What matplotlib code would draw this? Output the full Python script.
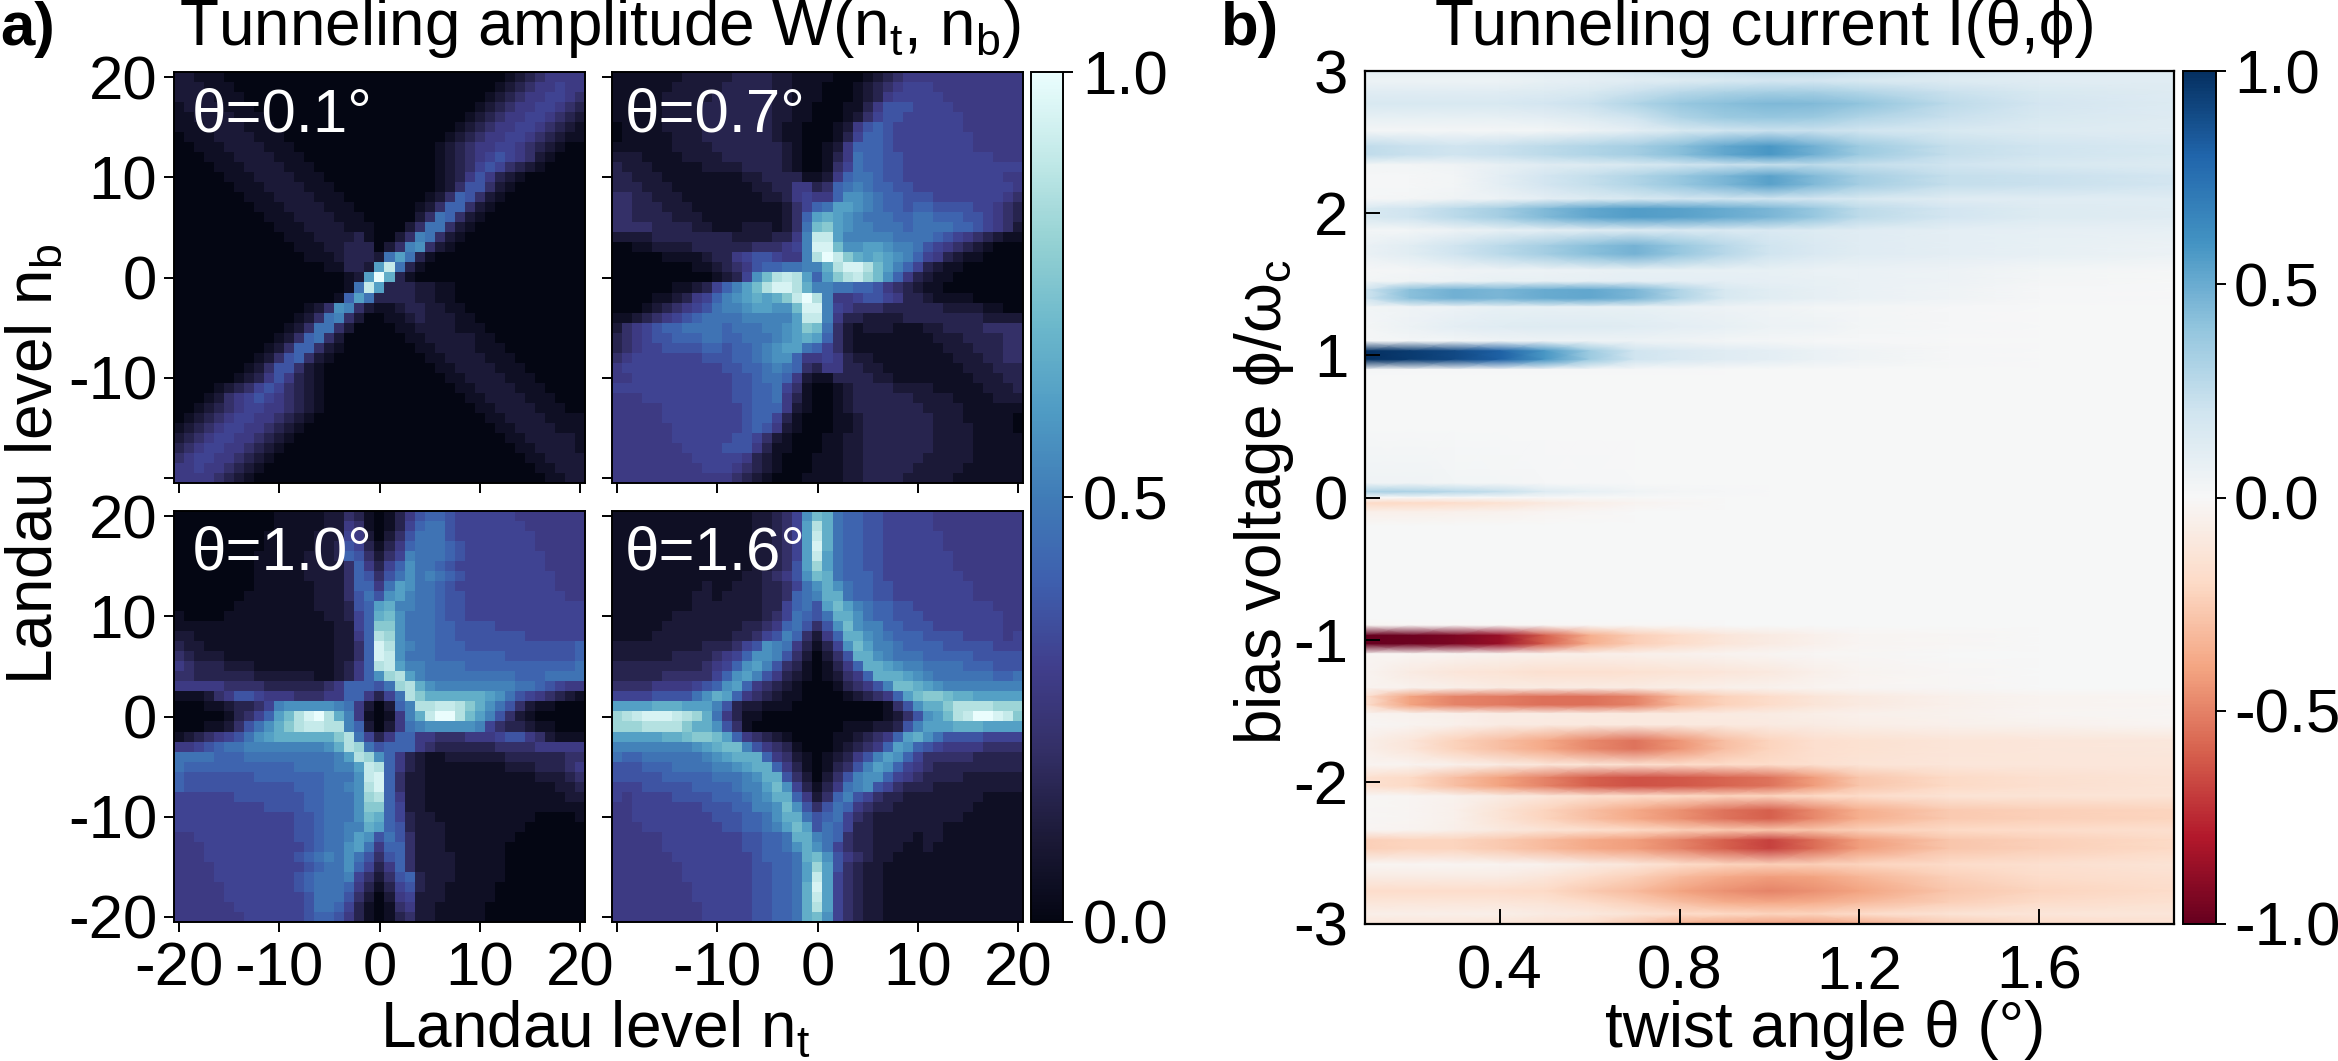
import numpy as np
import matplotlib
matplotlib.use('Agg')
import matplotlib.pyplot as plt
from matplotlib.colors import LinearSegmentedColormap

plt.rcParams['font.family'] = ['Liberation Sans', 'DejaVu Sans']
plt.rcParams['mathtext.fontset'] = 'custom'
plt.rcParams['mathtext.rm'] = 'Liberation Sans'
plt.rcParams['mathtext.default'] = 'regular'
plt.rcParams['axes.unicode_minus'] = False

W, H = 2338, 1061
FS = 44.5
FS_LABEL = 46

# Tunneling amplitude, one character per cell (scale in LEVEL_VALUES)
# rows run from n_b = 20 down to n_b = -20, columns from n_t = -20 to n_t = 20
LEVELS = '0123456789abcdefghijk'
LEVEL_VALUES = [0, .05, .10, .15, .21, .28, .32, .37, .42, .47, .52, .57, .62, .67, .72, .77, .82, .87, .91, .95, 1]

w_01 = [
    "2211100000 0000000000 0000000000 0001234555 5",
    "2221110000 0000000000 0000000000 0012345565 5",
    "2222111000 0000000000 0000000000 0123455665 4",
    "1222211100 0000000000 0000000000 1234556654 3",
    "1122221110 0000000000 0000000001 2345566543 2",
    "1112222111 0000000000 0000000012 3455665432 1",
    "0111222211 1000000000 0000000123 4556654321 1",
    "0011122221 1100000000 0000001234 5566543210 0",
    "0001112222 1110000000 0000001234 5676542100 0",
    "0000111222 2111000000 0000001234 6764321000 0",
    "0000011122 2211100000 0000001235 7532100000 0",
    "0000001112 2221110000 0000001247 7421000000 0",
    "0000000111 2222111000 0000012487 4210000000 0",
    "0000000011 1222211100 0000124884 2100000000 0",
    "0000000001 1122221110 0000249842 1000000000 0",
    "0000000000 1112222111 0002499421 0000000000 0",
    "0000000000 0111222231 0024a94210 0000000000 0",
    "0000000000 0011122333 024ab42100 0000000000 0",
    "0000000000 0001112333 29c9310000 0000000000 0",
    "0000000000 0000011332 ci93100000 0000000000 0",
    "0000000000 000000012c kd31000000 0000000000 0",
    "0000000000 000000019i c333221100 0000000000 0",
    "0000000000 00000018c9 3333221100 0000000000 0",
    "0000000000 000124ba42 1123322110 0000000000 0",
    "0000000000 001249a420 0112322211 0000000000 0",
    "0000000000 0124994200 0011222211 1000000000 0",
    "0000000000 1248942000 0001122222 1100000000 0",
    "0000000001 2488421000 0000112222 1110000000 0",
    "0000000012 4784210000 0000011222 2111000000 0",
    "0000000124 7742100000 0000001122 2211100000 0",
    "0000001235 7532100000 0000000112 2221110000 0",
    "0000123467 6432100000 0000000011 2222111000 0",
    "0001245676 5432100000 0000000001 1222211100 0",
    "0012345665 5432100000 0000000000 1122221110 0",
    "0123456655 4321000000 0000000000 0112222111 1",
    "1234566554 3210000000 0000000000 0011222211 1",
    "2345665543 2100000000 0000000000 0001122222 1",
    "3456655432 1000000000 0000000000 0000112222 1",
    "4566554321 0000000000 0000000000 0000011222 2",
    "5565543210 0000000000 0000000000 0000001122 2",
    "5555432100 0000000000 0000000000 0000000112 2",
]

w_07 = [
    "1111111222 2233332211 1100012345 5555555555 5",
    "1111112222 2333332211 1000123456 6655555555 5",
    "1111122222 3333332211 1000123566 6665555555 5",
    "1111122223 3333332211 0001135777 6666555555 5",
    "1111122223 3333332211 0001246776 6666655555 5",
    "0111122223 3333332110 0012578766 6666655555 5",
    "0111112223 3333332110 0013688766 6666665555 5",
    "1111112222 3333333210 0125888766 6666665555 5",
    "2221111222 2333333210 0135988776 6666666655 5",
    "3222111112 2223333210 0146988776 6666666666 6",
    "3322211111 1112233331 1258998776 6666666665 5",
    "3332221111 1111223355 3489a98877 6666666666 5",
    "4433222111 1111122356 558bba9887 7766666665 4",
    "4433322211 1111111246 89ccba9887 8877776654 3",
    "4433332221 1111111248 cdcba99988 9988877654 3",
    "4444333322 1112221249 efcbaa9998 9999887654 2",
    "2222333333 332222335a iicaaaaa99 9987654321 1",
    "0011222233 333344456a jjebbccbaa 9765432100 0",
    "0000011112 335677655a hkifdcdcba 8653211000 0",
    "0000000011 234578899a adhjjheca8 6321100000 0",
    "0000000000 1236behihc 8cfhigeb85 3211000000 0",
    "0 0000011236 8acehjjhda a998875432 1100000000",
    "0 0001123568 abcdcdfikh a556776533 2111100000",
    "0 0012345679 aabccbbejj a654443333 3322221100",
    "1 1234567899 99aaaaacii a533222233 3333332222",
    "2 4567889999 8999aabcfe 9421222111 2233334444",
    "3 4567788899 88999abcdc 8421111111 1222333344",
    "3 4566777788 7889abcc98 6421111111 1122233344",
    "4 5666666677 7889abb855 6532211111 1112223344",
    "5 6666666666 77889a9843 5533221111 1111222333",
    "5 5666666666 6778998521 1333322111 1111122233",
    "6 6666666666 6778896410 0123333222 2111112223",
    "5 5566666666 6778895310 0123333332 2221111222",
    "5 5555666666 6678885210 0123333333 2222111111",
    "5 5555666666 6678863100 0112333333 3222111110",
    "5 5555566666 6678752100 0112333333 3222211110",
    "5 5555566666 6776421000 1122333333 3222211111",
    "5 5555556666 7775311000 1122333333 3222211111",
    "5 5555555666 6653210001 1122333333 2222211111",
    "5 5555555566 6543210001 1122333332 2222111111",
    "5 5555555555 5432100011 1122333322 2221111111",
]

w_10 = [
    "0000000000 1111122431 0135788766 6666555555 5",
    "0000000000 1111122541 0136899766 6666655555 5",
    "0000000001 1111222652 0247999766 6666665555 5",
    "0000000001 1111223763 1358999876 6666665555 5",
    "0000000011 1112223874 246a999876 6666666555 5",
    "0000000011 1112222485 368b998766 6666666555 5",
    "0000000011 1112222487 479b9a9876 6666666655 5",
    "0000000011 1111222488 59cb998766 6666666655 5",
    "0000000111 1111222479 7bca998776 6666666665 5",
    "0000001111 1111222378 cdaa998776 6666666666 6",
    "1000011111 1111122368 deb9998776 6666666666 6",
    "1111111111 1111112268 ffb9998877 7766666666 6",
    "2211111111 1111112258 hgb9998877 7777766666 6",
    "3221111111 1111112248 jhba998887 7777777777 8",
    "4322211111 1111112248 jib9998888 8887777777 8",
    "5433322211 1111112358 hicaa99998 8888888888 9",
    "4433333322 2222112358 bghca99999 9999888999 9",
    "5555544443 3333345888 79ghdbaaaa aaaa998765 5",
    "1112457765 5544455885 369hfddddd dcb9765432 1",
    "0001123346 abbbbba952 028ahhiihf db97421100 0",
    "0000013468 cehjkhda51 015adikkhe ca74210000 0",
    "0 0011247 9bd fhiihha820 259abbbbba 6433211000",
    "1 2345679bcd dddddfh963 5885544455 5677542111",
    "5 567899aaaa aaaabdhg97 8885433333 3444455555",
    "9 9998889999 99999achgb 8532112222 2233333344",
    "9 8888888888 89999aacih 8532111111 1122233345",
    "8 7777777888 8888999bij 8422111111 1111122234",
    "8 7777777777 788899abhj 8422111111 1111111223",
    "6 6666677777 7788999bgh 8522111111 1111111122",
    "6 6666666677 7788999bff 8622111111 1111111111",
    "6 6666666666 6778999bed 8632211111 1111100001",
    "6 6666666666 677899aadc 8732221111 1111000000",
    "5 5666666666 677899acb7 9742221111 1110000000",
    "5 5566666666 667899bc95 8842221111 1100000000",
    "5 5566666666 6789a9b974 7842222111 1100000000",
    "5 5556666666 667899b863 5842222111 1100000000",
    "5 5556666666 678999a642 4783222111 1100000000",
    "5 5555666666 6789998531 3673221111 1000000000",
    "5 5555666666 6679997420 2562221111 1000000000",
    "5 5555566666 6679986310 1452211111 0000000000",
    "5 5555556666 6678875310 1342211111 0000000000",
]

w_16 = [
    "1111111111 111122346b ed98877666 6655555555 5",
    "1111111111 111122346c hd98877666 6655555555 5",
    "1111111111 111122346c id98877666 6665555555 5",
    "1111111111 111122346c jd98877666 6665555555 5",
    "1111111111 111122346c ic98877666 6666555555 5",
    "1111111111 111122347c gc98877666 6666555555 5",
    "1111111111 111223457b ed98887666 6666655555 5",
    "1111111112 1122233469 bdb9887766 6666665555 5",
    "1111111122 1222233489 add9887766 6666665555 5",
    "1111111122 2222233689 7ceca98877 6666666655 5",
    "1111112222 2222234698 79ddb98877 7666666665 5",
    "1111122222 2223345897 47bebaa887 7766666665 5",
    "1111222222 2233467a84 258ddba988 8777766665 6",
    "2222222223 33467ba953 136becaa98 8887777766 6",
    "2222223333 4568bba742 0247ddba99 9888887777 7",
    "3333333334 568bca7431 01358ddcba a999988877 7",
    "3333344444 68bca75321 012458dddc ba99999988 9",
    "4444555567 8bc8543210 0013457aee dcbaaaaaaa a",
    "666677779b dc85432110 000123458c effeddcccc c",
    "ccccdddccc a732211100 0000000147 bddfhhhhgg g",
    "ghijjjihgd 9531100000 0000000124 7bcehikkji f",
    "g gghhhhfddb 7410000000 001112237a cccdddcccc",
    "c ccccddeffe c854321000 01123458cd b977776666",
    "a aaaaaaabcd eea7543100 0123458cb8 7655554444",
    "9 88999999ab cddd854210 12357acb86 4444433333",
    "7 778889999a abcdd85310 1347acb865 4333333333",
    "7 7777888889 99abdd7420 247abb8654 3333222222",
    "6 6677777888 89aaceb631 359ab76433 3222222222",
    "6 5666677778 889abdd852 48a7643322 2222221111",
    "5 5666666677 788aabeb74 7985433222 2222211111",
    "5 5666666667 77889bdd97 8964322222 2222111111",
    "5 5566666666 77889acec7 9863322222 2211111111",
    "5 5555666666 6677889dda 9843322221 2211111111",
    "5 5555666666 6677889bdb 9643322211 2111111111",
    "5 5555566666 66678889de b754322111 1111111111",
    "5 5555556666 66677889cg c743221111 1111111111",
    "5 5555556666 66677889ci c643221111 1111111111",
    "5 5555555666 66677889dj c643221111 1111111111",
    "5 5555555666 66677889di c643221111 1111111111",
    "5 5555555566 66677889dh c643221111 1111111111",
    "5 5555555566 66677889de b643221111 1111111111",
]

panel_labels = ['θ=0.1°', 'θ=0.7°', 'θ=1.0°', 'θ=1.6°']

# Tunneling current in percent
theta = [0.1, 0.2, 0.3, 0.4, 0.5, 0.6, 0.7, 0.8, 0.9, 1.0, 1.1, 1.2, 1.4, 1.6, 1.9]
phi = [3.00, 2.93, 2.85, 2.77, 2.67, 2.58, 2.47, 2.41, 2.34, 2.26, 2.20, 2.10, 2.03, 1.97, 1.88,
       1.77, 1.71, 1.60, 1.52, 1.46, 1.40, 1.34, 1.20, 1.10, 1.03, 0.97, 0.90, 0.85, 0.50, 0.10,
       0.04, 0.00,
       -0.04, -0.10, -0.20, -0.50, -0.85, -0.90, -0.97, -1.03, -1.10, -1.23, -1.34, -1.40, -1.46,
       -1.52, -1.60, -1.71, -1.77, -1.88, -1.97, -2.03, -2.10, -2.20, -2.26, -2.34, -2.41, -2.47,
       -2.58, -2.67, -2.77, -2.85, -2.93, -3.00]
current = [
    [10, 10, 10, 10, 12, 14, 18, 22, 24, 26, 26, 24, 18, 14, 12],
    [6, 6, 6, 6, 8, 10, 12, 14, 16, 18, 18, 16, 14, 12, 12],
    [12, 12, 12, 12, 14, 16, 22, 28, 32, 34, 34, 30, 22, 16, 13],
    [16, 16, 16, 16, 18, 22, 30, 38, 42, 45, 44, 40, 26, 18, 14],
    [8, 8, 8, 8, 10, 14, 20, 30, 36, 38, 36, 30, 22, 16, 13],
    [2, 2, 2, 2, 3, 6, 10, 16, 20, 22, 22, 20, 16, 14, 12],
    [25, 22, 20, 22, 26, 30, 34, 42, 52, 58, 48, 36, 24, 20, 16],
    [25, 22, 20, 22, 26, 30, 34, 42, 52, 58, 48, 36, 24, 20, 16],
    [3, 3, 4, 8, 12, 14, 16, 20, 22, 24, 26, 24, 20, 16, 14],
    [1, 1, 3, 10, 18, 24, 30, 38, 46, 54, 44, 34, 24, 22, 18],
    [1, 1, 3, 10, 18, 24, 30, 38, 46, 54, 44, 34, 24, 22, 18],
    [1, 2, 4, 6, 10, 14, 16, 18, 20, 20, 18, 16, 12, 12, 12],
    [16, 20, 27, 34, 44, 52, 56, 54, 50, 46, 38, 26, 18, 14, 12],
    [16, 20, 27, 34, 44, 52, 56, 54, 50, 46, 38, 26, 18, 14, 12],
    [2, 3, 5, 8, 10, 12, 14, 15, 15, 15, 14, 12, 10, 9, 8],
    [7, 11, 20, 27, 34, 42, 47, 38, 28, 20, 15, 12, 10, 8, 6],
    [7, 11, 20, 27, 34, 42, 47, 38, 28, 20, 15, 12, 10, 8, 6],
    [1, 2, 4, 5, 6, 7, 8, 8, 8, 8, 7, 7, 5, 3, 1],
    [3, 4, 6, 8, 8, 9, 10, 10, 10, 9, 8, 7, 5, 2, 0],
    [20, 42, 48, 46, 50, 52, 46, 30, 16, 11, 9, 7, 4, 1, 0],
    [20, 42, 48, 46, 50, 52, 46, 30, 16, 11, 9, 7, 4, 1, 0],
    [3, 4, 6, 8, 8, 8, 8, 7, 5, 4, 3, 2, 1, 0, 0],
    [2, 6, 10, 12, 13, 13, 12, 10, 8, 6, 5, 3, 1, 0, 0],
    [1, 2, 3, 4, 5, 5, 5, 4, 3, 2, 1, 1, 0, 0, 0],
    [100, 96, 90, 82, 58, 36, 20, 15, 12, 10, 7, 4, 1, 0, 0],
    [100, 96, 90, 82, 58, 36, 20, 15, 12, 10, 7, 4, 1, 0, 0],
    [2, 1, 1, 1, 1, 1, 1, 1, 0, 0, 0, 0, 0, 0, 0],
    [0, 0, 0, 0, 0, 0, 0, 0, 0, 0, 0, 0, 0, 0, 0],
    [0, 0, 0, 0, 0, 0, 0, 0, 0, 0, 0, 0, 0, 0, 0],
    [4, 4, 3, 2, 1, 1, 0, 0, 0, 0, 0, 0, 0, 0, 0],
    [32, 32, 28, 24, 14, 8, 4, 2, 1, 0, 0, 0, 0, 0, 0],
    [0, 0, 0, 0, 0, 0, 0, 0, 0, 0, 0, 0, 0, 0, 0],
    [-20, -20, -18, -15, -10, -6, -3, -1, 0, 0, 0, 0, 0, 0, 0],
    [-6, -6, -5, -4, -2, -1, 0, 0, 0, 0, 0, 0, 0, 0, 0],
    [0, 0, 0, 0, 0, 0, 0, 0, 0, 0, 0, 0, 0, 0, 0],
    [0, 0, 0, 0, 0, 0, 0, 0, 0, 0, 0, 0, 0, 0, 0],
    [0, 0, 0, 0, 0, 0, 0, 0, 0, 0, 0, 0, 0, 0, 0],
    [-2, -1, -1, -1, -1, -1, -1, -1, 0, 0, 0, 0, 0, 0, 0],
    [-100, -98, -94, -86, -60, -36, -25, -18, -12, -8, -5, -2, -1, 0, 0],
    [-100, -98, -94, -86, -60, -36, -25, -18, -12, -8, -5, -2, -1, 0, 0],
    [-2, -2, -3, -4, -5, -6, -5, -4, -3, -2, -1, -1, 0, 0, 0],
    [-3, -8, -12, -14, -16, -16, -15, -14, -12, -10, -6, -3, -1, 0, 0],
    [-3, -4, -6, -8, -8, -8, -8, -7, -5, -4, -3, -2, -1, 0, 0],
    [-16, -40, -50, -52, -55, -55, -50, -32, -23, -18, -13, -9, -5, -3, -2],
    [-16, -40, -50, -52, -55, -55, -50, -32, -23, -18, -13, -9, -5, -3, -2],
    [-3, -4, -6, -8, -8, -9, -10, -10, -9, -8, -7, -5, -4, -2, -1],
    [-1, -3, -5, -8, -9, -10, -10, -10, -10, -9, -8, -7, -5, -4, -2],
    [-6, -12, -23, -30, -38, -48, -54, -44, -30, -22, -17, -15, -13, -12, -11],
    [-6, -12, -23, -30, -38, -48, -54, -44, -30, -22, -17, -15, -13, -12, -11],
    [-2, -3, -5, -8, -12, -14, -16, -18, -18, -18, -16, -14, -12, -12, -12],
    [-16, -20, -30, -40, -50, -60, -64, -62, -58, -54, -42, -28, -20, -16, -14],
    [-16, -20, -30, -40, -50, -60, -64, -62, -58, -54, -42, -28, -20, -16, -14],
    [-1, -2, -4, -8, -12, -16, -18, -20, -22, -22, -20, -18, -14, -14, -14],
    [-1, -2, -5, -14, -22, -30, -38, -46, -54, -60, -48, -36, -26, -24, -22],
    [-1, -2, -5, -14, -22, -30, -38, -46, -54, -60, -48, -36, -26, -24, -22],
    [-2, -3, -6, -10, -14, -16, -20, -24, -26, -28, -28, -24, -20, -18, -16],
    [-24, -22, -22, -26, -32, -38, -42, -50, -60, -68, -56, -42, -28, -24, -20],
    [-24, -22, -22, -26, -32, -38, -42, -50, -60, -68, -56, -42, -28, -24, -20],
    [-2, -2, -2, -3, -4, -8, -12, -18, -22, -24, -24, -22, -18, -16, -14],
    [-8, -8, -8, -8, -12, -18, -24, -32, -38, -42, -40, -34, -24, -18, -16],
    [-18, -18, -18, -18, -20, -26, -32, -40, -46, -50, -46, -40, -28, -22, -18],
    [-12, -12, -12, -12, -14, -18, -24, -30, -36, -38, -36, -32, -24, -18, -15],
    [-6, -6, -6, -6, -8, -10, -14, -18, -20, -22, -22, -18, -14, -12, -12],
    [-12, -12, -12, -14, -16, -20, -28, -36, -40, -42, -42, -38, -26, -20, -16],
]

n_ticks = [-20, -10, 0, 10, 20]
cbar_a_ticks = [0.0, 0.5, 1.0]
cbar_b_ticks = [-1.0, -0.5, 0.0, 0.5, 1.0]
theta_ticks = [0.4, 0.8, 1.2, 1.6]
phi_ticks = [-3, -2, -1, 0, 1, 2, 3]

# colours of the colorbar in panel a
ice = LinearSegmentedColormap.from_list('ice', [
    (0.0, '#040613'), (0.1, '#1c1a38'), (0.2, '#332f66'), (0.3, '#403e8c'),
    (0.4, '#3e5fae'), (0.5, '#407cb7'), (0.6, '#4f9bc4'), (0.7, '#6bb7cb'),
    (0.8, '#94d1d3'), (0.9, '#c2e9e8'), (1.0, '#eafdfd')])


def to_grid(rows):
    rows = [r.replace(' ', '').ljust(41, '0')[:41] for r in rows]
    return np.array([[LEVEL_VALUES[LEVELS.index(c)] for c in r] for r in rows])


def add_axes(fig, x0, y0, x1, y1):
    # pixel box measured from the top left corner
    return fig.add_axes([x0 / W, 1 - y1 / H, (x1 - x0) / W, (y1 - y0) / H])


def put_text(fig, x, y, s, **kw):
    return fig.text(x / W, 1 - y / H, s, fontsize=kw.pop('fontsize', FS), **kw)


fig = plt.figure(figsize=(W / 100, H / 100), dpi=100)

boxes = [(174, 72, 585, 483), (612, 72, 1023, 483), (174, 511, 585, 922), (612, 511, 1023, 922)]
grids = [w_01, w_07, w_10, w_16]
label_x = [192, 625, 192, 625]
label_y = [132, 132, 569, 569]

for k in range(4):
    ax = add_axes(fig, *boxes[k])
    im = ax.imshow(to_grid(grids[k]), cmap=ice, vmin=0, vmax=1, origin='upper',
                   extent=[-20.5, 20.5, -20.5, 20.5], interpolation='nearest', aspect='auto')
    ax.set_xticks(n_ticks)
    ax.set_yticks(n_ticks)
    ax.tick_params(length=7, width=1.4, labelsize=FS, pad=5, direction='out')
    for s in ax.spines.values():
        s.set_linewidth(1.4)
    ax.tick_params(axis='x', pad=7)
    if k == 0:
        ax.set_xticklabels([])
        ax.set_yticklabels(['', '-10', '0', '10', '20'])
    if k == 1:
        ax.set_xticklabels([])
        ax.set_yticklabels([])
    if k == 2:
        ax.set_xticklabels(['-20', '-10', '0', '10', '20'])
        ax.set_yticklabels(['-20', '-10', '0', '10', '20'])
    if k == 3:
        ax.set_xticklabels(['', '-10', '0', '10', '20'])
        ax.set_yticklabels([])
    put_text(fig, label_x[k], label_y[k], panel_labels[k], color='white')

cax = add_axes(fig, 1031, 72, 1063, 922)
cb = fig.colorbar(im, cax=cax, ticks=cbar_a_ticks)
cb.ax.set_yticklabels(['0.0', '0.5', '1.0'])
cb.ax.tick_params(length=7, width=1.4, labelsize=FS, pad=7)
cb.outline.set_linewidth(1.4)

axb = add_axes(fig, 1365, 71, 2174, 924)
mesh = axb.pcolormesh(theta, phi, np.array(current) / 100, cmap='RdBu', vmin=-1, vmax=1,
                      shading='gouraud')
axb.set_xlim(0.1, 1.9)
axb.set_ylim(-3, 3)
axb.set_xticks(theta_ticks)
axb.set_xticklabels(['0.4', '0.8', '1.2', '1.6'])
axb.set_yticks(phi_ticks)
axb.set_yticklabels(['-3', '-2', '-1', '0', '1', '2', '3'])
axb.tick_params(length=11, width=1.4, labelsize=FS, direction='in', pad=12)
axb.tick_params(axis='x', pad=15)
for s in axb.spines.values():
    s.set_linewidth(1.6)

cax2 = add_axes(fig, 2183, 71, 2216, 924)
cb2 = fig.colorbar(mesh, cax=cax2, ticks=cbar_b_ticks)
cb2.ax.set_yticklabels(['-1.0', '-0.5', '0.0', '0.5', '1.0'])
cb2.ax.tick_params(length=7, width=1.4, labelsize=FS, pad=6)
cb2.outline.set_linewidth(1.4)

put_text(fig, 0, 45, 'a)', fontweight='bold')
put_text(fig, 1221, 45, 'b)', fontweight='bold')
put_text(fig, 179, 45, 'Tunneling amplitude W(n$_{t}$, n$_{b}$)', fontsize=FS_LABEL)
put_text(fig, 1435, 45, 'Tunneling current I(θ,ϕ)', fontsize=FS_LABEL)
put_text(fig, 380, 1047, 'Landau level n$_{t}$', fontsize=FS_LABEL)
put_text(fig, 1605, 1047, 'twist angle θ (°)', fontsize=FS_LABEL)
put_text(fig, 52, 464, 'Landau level n$_{b}$', rotation=90, va='baseline', ha='center',
         rotation_mode='anchor', fontsize=FS_LABEL)
put_text(fig, 1281, 502, 'bias voltage ϕ/ω$_{c}$', rotation=90, va='baseline', ha='center',
         rotation_mode='anchor', fontsize=FS_LABEL)

fig.savefig('out.png', dpi=100)
